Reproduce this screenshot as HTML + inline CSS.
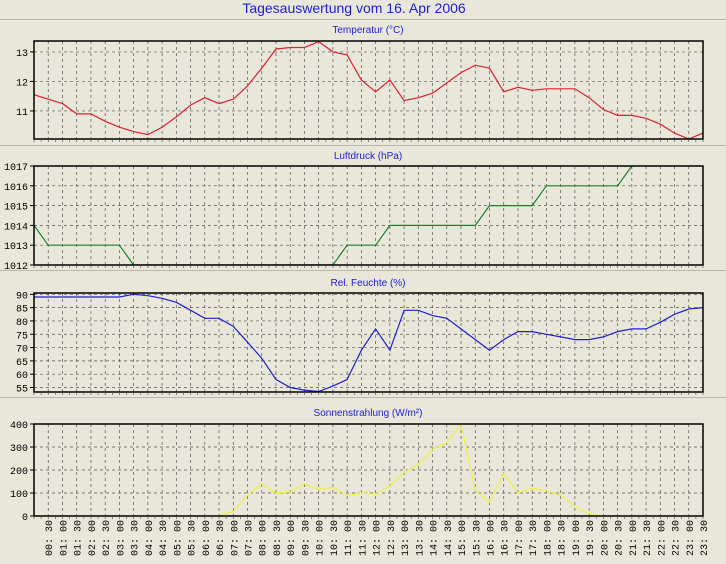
<!DOCTYPE html>
<html><head><meta charset="utf-8"><style>
body{margin:0;background:#e8e7da;}
svg{display:block;font-family:"Liberation Sans",sans-serif;}
</style></head><body>
<svg id="s" width="726" height="564">
<rect width="726" height="564" fill="#e8e7da"/>
<text x="354" y="13" text-anchor="middle" font-size="14" fill="#2020e0">Tagesauswertung vom 16. Apr 2006</text>
<line x1="0" y1="19.5" x2="726" y2="19.5" stroke="#b8b8b0"/>
</svg>
<script>
const times=[];for(let i=0;i<48;i++){times.push(String(Math.floor(i/2)).padStart(2,'0')+':'+(i%2?'30':'00'));}
const tempValues=[11.55,11.4,11.25,10.9,10.9,10.65,10.45,10.3,10.2,10.45,10.8,11.2,11.45,11.25,11.4,11.85,12.45,13.1,13.15,13.15,13.35,13.0,12.9,12.05,11.65,12.05,11.35,11.45,11.6,11.95,12.3,12.55,12.45,11.65,11.8,11.7,11.75,11.75,11.75,11.45,11.05,10.85,10.85,10.75,10.55,10.25,10.05,10.25];
const pressureValues=[1014,1013,1013,1013,1013,1013,1013,1012,1012,1012,1012,1012,1012,1012,1012,1012,1012,1012,1012,1012,1012,1012,1013,1013,1013,1014,1014,1014,1014,1014,1014,1014,1015,1015,1015,1015,1016,1016,1016,1016,1016,1016,1017,1018,1018,1018,1018,1018];
const humidityValues=[89,89,89,89,89,89,89,90,89.5,88.5,87,84,81,81,78,72,66,58,55,54,53.5,55.5,58,69,77,69,84,84,82,81,77,73,69,73,76,76,75,74,73,73,74,76,77,77,79.5,82.5,84.5,85];
const sunValues=[0,0,0,0,0,0,0,0,0,0,0,0,0,0,20,90,140,100,105,140,115,125,90,100,95,130,190,225,290,320,400,110,60,185,100,120,110,90,40,10,0,0,0,0,0,0,0,0];
const tempTicks=[11,12,13],pressureTicks=[1012,1013,1014,1015,1016,1017],humidityTicks=[55,60,65,70,75,80,85,90],sunTicks=[0,100,200,300,400];
const NS='http://www.w3.org/2000/svg',svg=document.getElementById('s');
const X0=34,X1=703;
function xs(i){return X0+i*(X1-X0)/47;}
function el(t,a,p){const e=document.createElementNS(NS,t);for(const k in a)e.setAttribute(k,a[k]);(p||svg).appendChild(e);return e;}
const panels=[
 {name:'temperature',title:'Temperatur (°C)',vals:tempValues,ticks:tempTicks,min:10.05,max:13.37,top:41,bot:139,color:'#e02030',ty:33,sep:145},
 {name:'pressure',title:'Luftdruck (hPa)',vals:pressureValues,ticks:pressureTicks,min:1012,max:1017,top:166,bot:265,color:'#208030',ty:159,sep:270},
 {name:'humidity',title:'Rel. Feuchte (%)',vals:humidityValues,ticks:humidityTicks,min:53.3,max:90.5,top:293,bot:392,color:'#2020d0',ty:286,sep:397},
 {name:'sun',title:'Sonnenstrahlung (W/m²)',vals:sunValues,ticks:sunTicks,min:0,max:400,top:424,bot:516,color:'#f0f040',ty:416,sep:null}
];
panels.forEach((p,pi)=>{
 const g=el('g',{});
 
 
 const ys=v=>p.bot-(v-p.min)/(p.max-p.min)*(p.bot-p.top);
 const t=el('text',{x:368,y:p.ty,'text-anchor':'middle','font-size':10,fill:'#2020e0'},g);t.textContent=p.title;
 
 
 for(let i=1;i<47;i+=1){const l=el('line',{x1:xs(i),x2:xs(i),y1:p.top,y2:p.bot,stroke:'#555','stroke-dasharray':'3,3','stroke-width':0.7},g);
  
  }
 p.ticks.forEach(v=>{const y=ys(v);
  const l=el('line',{x1:X0,x2:X1,y1:y,y2:y,stroke:'#555','stroke-dasharray':'3,3','stroke-width':0.7},g);
  
  
  const tk=el('line',{x1:X0-4,x2:X0,y1:y,y2:y,stroke:'#000'},g);
  
  
  const tx=el('text',{x:X0-6,y:y+4,'text-anchor':'end','font-size':10,fill:'#000','font-family':'Liberation Mono, monospace'},g);tx.textContent=v;
  
  });
 const cid='c'+pi;const cp=el('clipPath',{id:cid},g);el('rect',{x:X0,y:p.top,width:X1-X0,height:p.bot-p.top},cp);
 const pts=p.vals.map((v,i)=>xs(i).toFixed(1)+','+ys(v).toFixed(1)).join(' ');
 const pl=el('polyline',{points:pts,fill:'none',stroke:p.color,'stroke-width':1.2,'clip-path':'url(#'+cid+')'},g);
 
 
 const fr=el('rect',{x:X0,y:p.top,width:X1-X0,height:p.bot-p.top,fill:'none',stroke:'#000','stroke-width':1.5},g);
 
 
 for(let i=0;i<=94;i++){const x=X0+i*(X1-X0)/94;el('line',{x1:x,x2:x,y1:p.bot,y2:p.bot+3,stroke:'#444','stroke-width':0.6},g);}
 if(p.sep){const s=el('line',{x1:0,x2:726,y1:p.sep+0.5,y2:p.sep+0.5,stroke:'#b8b8b0'},g);
  
  }
});
for(let i=1;i<48;i++){const x=xs(i);
 const t=el('text',{x:0,y:0,'font-size':10,fill:'#000','font-family':'Liberation Mono, monospace',transform:'translate('+(x+4)+',556) rotate(-90)'});
 t.textContent=times[i].replace(':',': ');
 
 }
</script>
</body></html>
